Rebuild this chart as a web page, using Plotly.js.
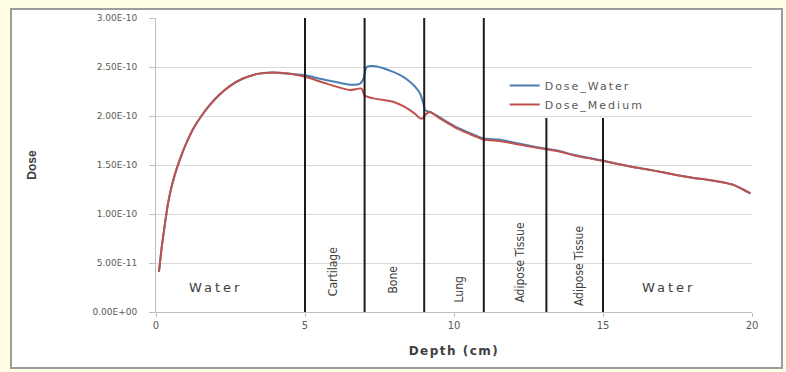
<!DOCTYPE html>
<html>
<head>
<meta charset="utf-8">
<script src="https://cdn.plot.ly/plotly-3.0.1.min.js"></script>
<style>
  html, body { margin: 0; padding: 0; background: #fffde3; width: 786px; height: 372px; overflow: hidden; }
  #frame { position: absolute; left: 10px; top: 8px; width: 773px; height: 361px; box-sizing: border-box;
           border: 2px solid #9c9c9c; background: #ffffff; }
  #chart { width: 769px; height: 357px; }
</style>
</head>
<body>
<div id="frame"><div id="chart"></div></div>
<script>
// ---- data ----
const depthWater = [0.1, 0.2, 0.3, 0.4, 0.5, 0.65, 0.8, 1.0, 1.25, 1.5, 1.8, 2.1, 2.5, 2.9, 3.4, 3.9, 4.5, 5.0,
  5.5, 6.0, 6.5, 6.85, 6.96, 7.07, 7.3, 7.6, 7.96, 8.3, 8.52, 8.75, 8.86, 8.97, 9.03, 9.2,
  9.5, 10.0, 10.5, 11.0, 11.5, 12.0, 12.5, 13.1, 13.5, 14.0, 14.5, 15.0, 15.5, 16.0, 16.5,
  17.0, 17.5, 18.0, 18.5, 19.0, 19.4, 19.7, 19.95];
const doseWater = [0.41, 0.68, 0.90, 1.10, 1.25, 1.42, 1.555, 1.71, 1.87, 1.99, 2.11, 2.21, 2.31, 2.38, 2.43, 2.445, 2.43, 2.415,
  2.38, 2.35, 2.32, 2.33, 2.38, 2.50, 2.51, 2.49, 2.45, 2.40, 2.35, 2.28, 2.23, 2.13, 2.06, 2.04,
  1.99, 1.90, 1.83, 1.77, 1.76, 1.73, 1.70, 1.665, 1.645, 1.605, 1.575, 1.545, 1.51, 1.48, 1.455,
  1.425, 1.395, 1.37, 1.35, 1.325, 1.295, 1.25, 1.21];

const depthMedium = [0.1, 0.2, 0.3, 0.4, 0.5, 0.65, 0.8, 1.0, 1.25, 1.5, 1.8, 2.1, 2.5, 2.9, 3.4, 3.9, 4.5, 5.0,
  5.73, 6.5, 6.9, 7.0, 7.3, 7.96, 8.3, 8.52, 8.7, 8.86, 8.95, 9.03, 9.2,
  9.5, 10.0, 10.5, 11.0, 11.5, 12.0, 12.5, 13.1, 13.5, 14.0, 14.5, 15.0, 15.5, 16.0, 16.5,
  17.0, 17.5, 18.0, 18.5, 19.0, 19.4, 19.7, 19.95];
const doseMedium = [0.41, 0.68, 0.90, 1.10, 1.25, 1.42, 1.555, 1.71, 1.87, 1.99, 2.11, 2.21, 2.31, 2.38, 2.43, 2.445, 2.43, 2.40,
  2.33, 2.265, 2.28, 2.21, 2.18, 2.145, 2.10, 2.06, 2.02, 1.976, 1.975, 2.01, 2.04,
  1.98, 1.89, 1.82, 1.76, 1.745, 1.72, 1.69, 1.66, 1.64, 1.60, 1.57, 1.54, 1.51, 1.48, 1.455,
  1.425, 1.395, 1.37, 1.35, 1.325, 1.295, 1.25, 1.21];

const doseScale = 1e-10;

const yTickVals = [0, 0.5e-10, 1.0e-10, 1.5e-10, 2.0e-10, 2.5e-10, 3.0e-10];
const yTickText = ["0.00E+00", "5.00E-11", "1.00E-10", "1.50E-10", "2.00E-10", "2.50E-10", "3.00E-10"];
const xTickVals = [0, 5, 10, 15, 20];

const boundaryDepths = [5, 7, 9, 11, 13.1, 15];
const boundaryTops = [3.0e-10, 3.0e-10, 3.0e-10, 3.0e-10, 1.98e-10, 1.98e-10];

const regionNames = ["Water", "Cartilage", "Bone", "Lung", "Adipose Tissue", "Adipose Tissue", "Water"];
const seriesNames = ["Dose_Water", "Dose_Medium"];

// ---- layout placement of region labels ----
const regionX = [2.0, 5.95, 7.95, 10.15, 12.2, 14.2, 17.2];
const regionY = [0.255e-10, 0.41e-10, 0.33e-10, 0.235e-10, 0.51e-10, 0.47e-10, 0.255e-10];
const regionAngle = [0, -90, -90, -90, -90, -90, 0];

const spaced = (t, px) => '<span style="letter-spacing:' + px + 'px">' + t + '</span>';

const traces = [
  { x: depthWater, y: doseWater.map(v => v * doseScale), name: spaced(seriesNames[0], 2), mode: "lines",
    line: { color: "#4a7fb5", width: 2, shape: "spline", smoothing: 0.6 } },
  { x: depthMedium, y: doseMedium.map(v => v * doseScale), name: spaced(seriesNames[1], 2), mode: "lines",
    line: { color: "#c0504d", width: 2, shape: "spline", smoothing: 0.6 } }
];

const shapes = boundaryDepths.map((d, i) => ({
  type: "line", xref: "x", yref: "y", x0: d, x1: d, y0: 0, y1: boundaryTops[i],
  line: { color: "#1a1a1a", width: 2 }
}));

const annotations = regionNames.map((t, i) => ({
  x: regionX[i], y: regionY[i], xref: "x", yref: "y",
  text: regionAngle[i] === 0 ? spaced(t, 3) : t, showarrow: false,
  textangle: regionAngle[i],
  font: regionAngle[i] === 0
    ? { family: "DejaVu Sans, sans-serif", size: 13, color: "#404040" }
    : { family: "Liberation Sans Narrow, DejaVu Sans Condensed, Liberation Sans, sans-serif", size: 12, color: "#404040" }
}));

const layout = {
  width: 769, height: 357,
  margin: { l: 144, r: 29, t: 8, b: 55 },
  paper_bgcolor: "#ffffff", plot_bgcolor: "#ffffff",
  showlegend: true,
  legend: { x: 0.585, y: 0.82, xanchor: "left", yanchor: "top", bgcolor: "rgba(0,0,0,0)",
            font: { family: "DejaVu Sans, sans-serif", size: 11, color: "#595959" },
            tracegroupgap: 0, itemwidth: 30 },
  xaxis: {
    range: [0, 20], tickvals: xTickVals, ticktext: xTickVals.map(String),
    showgrid: false, zeroline: false, showline: true, linecolor: "#bfbfbf", linewidth: 1,
    ticks: "outside", ticklen: 4, tickcolor: "#bfbfbf",
    tickfont: { family: "DejaVu Sans, sans-serif", size: 10, color: "#595959" },
    title: { text: "<b>" + spaced("Depth (cm)", 1.5) + "</b>", standoff: 16,
             font: { family: "DejaVu Sans, sans-serif", size: 12, color: "#404040" } }
  },
  yaxis: {
    range: [0, 3.0e-10], tickvals: yTickVals, ticktext: yTickText,
    showgrid: true, gridcolor: "#d9d9d9", gridwidth: 1,
    zeroline: false, showline: true, linecolor: "#bfbfbf", linewidth: 1,
    ticks: "outside", ticklen: 6, tickcolor: "#bfbfbf",
    ticklabelstandoff: 10,
    tickfont: { family: "DejaVu Sans, sans-serif", size: 9, color: "#595959" },
    title: { text: "<b>Dose</b>", standoff: 53,
             font: { family: "Liberation Sans Narrow, Liberation Sans, sans-serif", size: 12, color: "#404040" } }
  },
  shapes: shapes,
  annotations: annotations
};

Plotly.newPlot("chart", traces, layout, { displayModeBar: false, staticPlot: true });
</script>
</body>
</html>
